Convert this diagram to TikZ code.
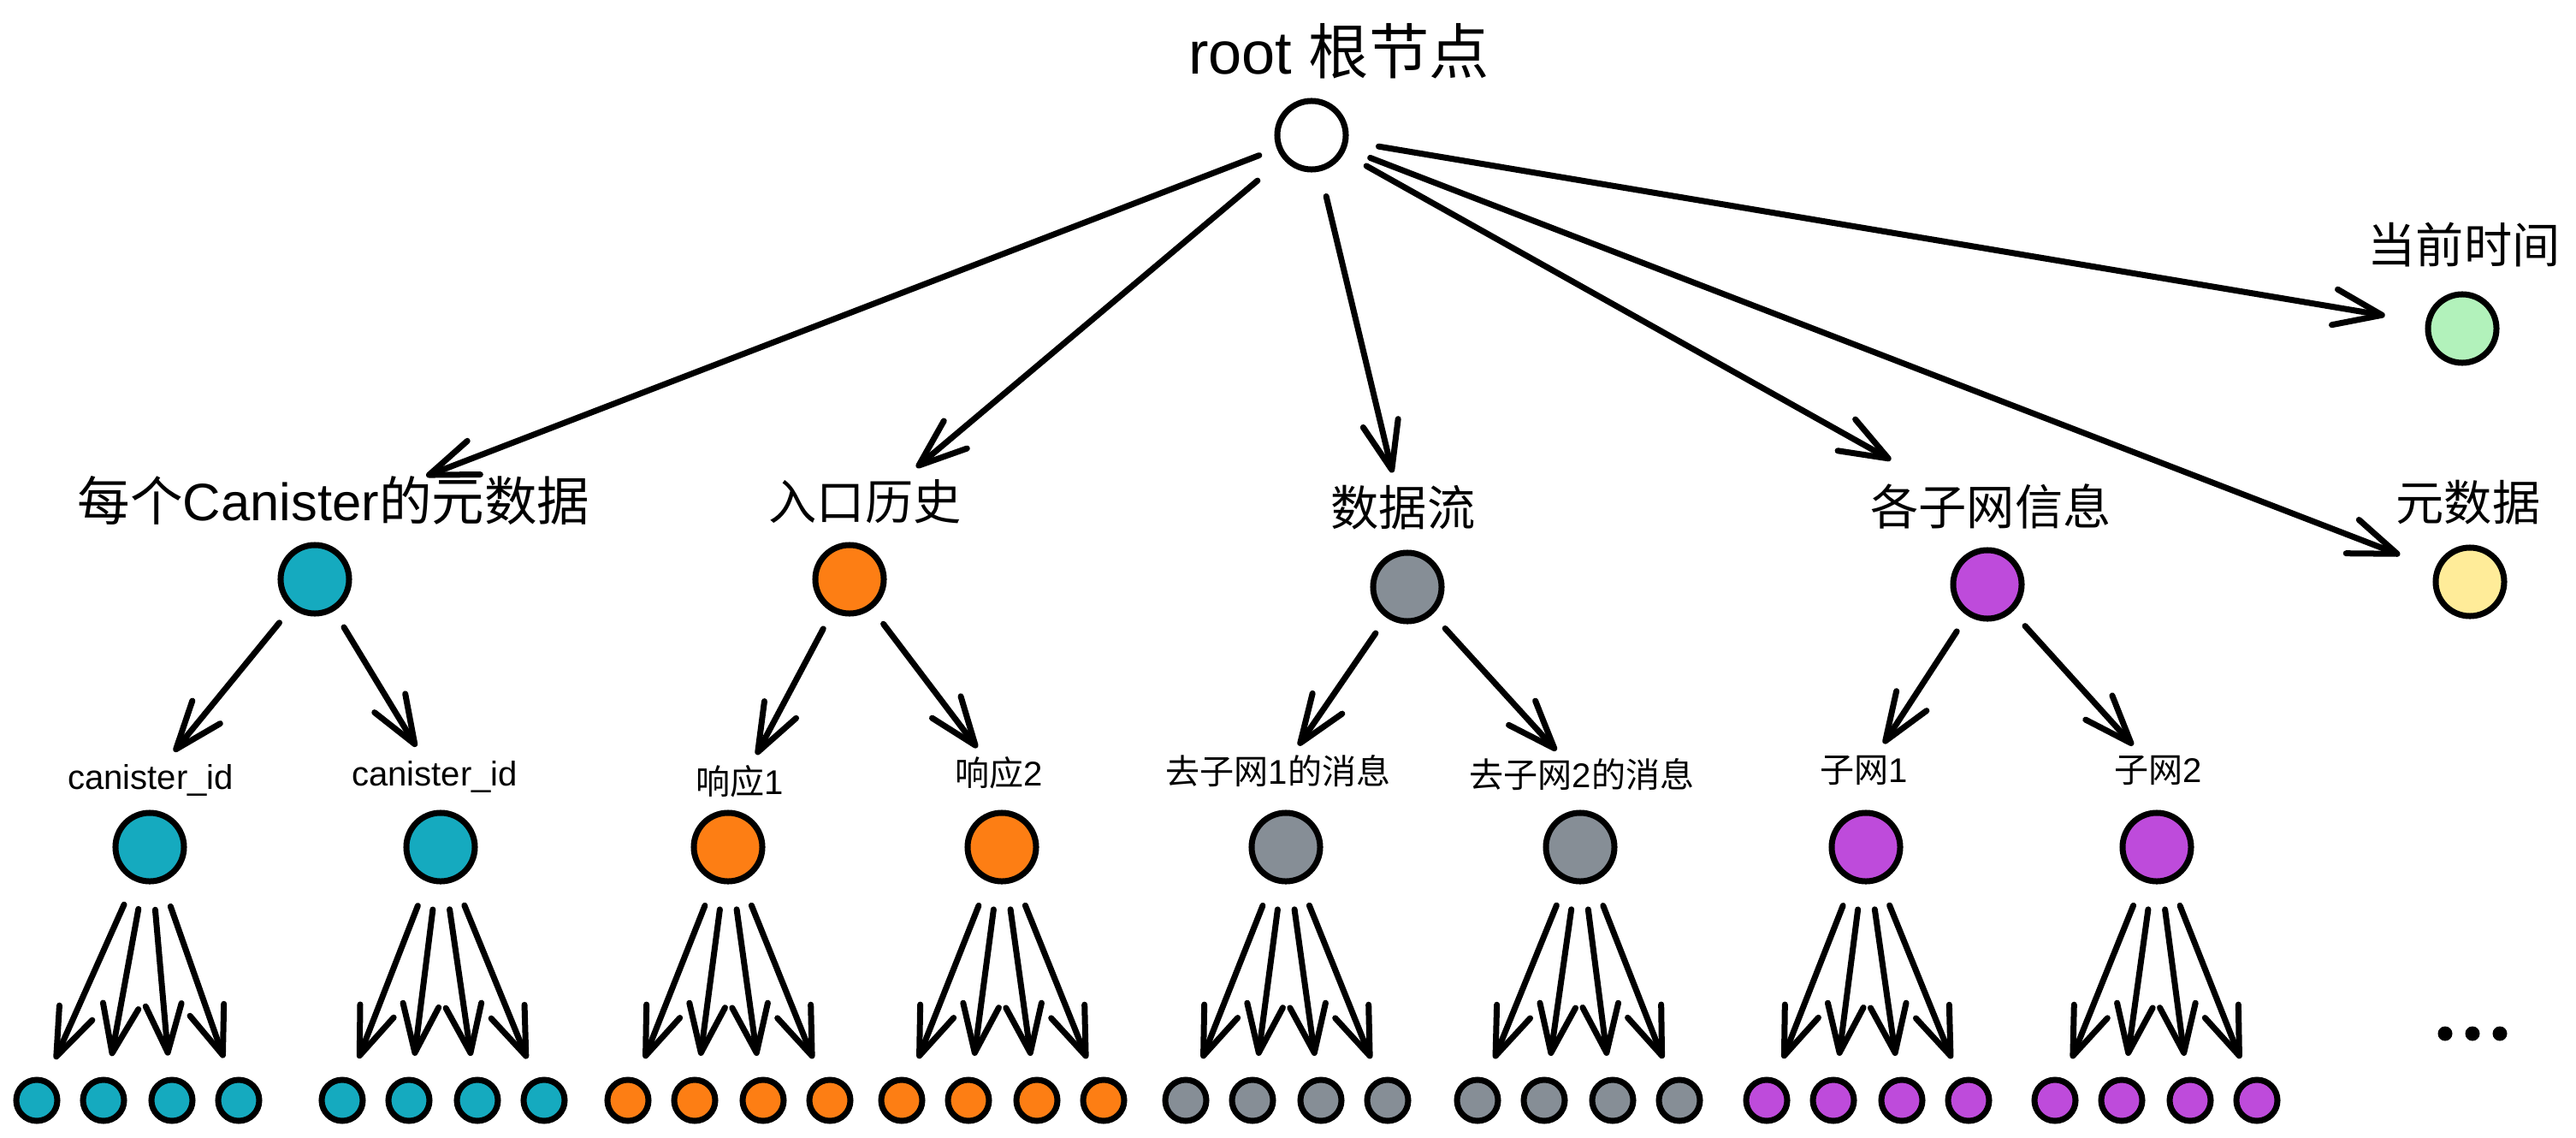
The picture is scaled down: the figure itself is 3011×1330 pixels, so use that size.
\documentclass[tikz,border=0pt]{standalone}
\usepackage{fontspec}
\setmainfont{Liberation Sans}
\newfontfamily\cjk{Noto Sans CJK SC}
\usetikzlibrary{arrows.meta}
\definecolor{tealc}{HTML}{15AABF}
\definecolor{orangec}{HTML}{FD7E14}
\definecolor{grayc}{HTML}{868E96}
\definecolor{grapec}{HTML}{BE4BDB}
\definecolor{greenc}{HTML}{B2F2BB}
\definecolor{yellowc}{HTML}{FFEC99}
\begin{document}
\begin{tikzpicture}[x=0.01cm,y=-0.01cm,
  dot/.style={draw,circle,line width=0.07cm,minimum size=0.8cm,inner sep=0pt},
  leaf/.style={draw,circle,line width=0.07cm,minimum size=0.48cm,inner sep=0pt},
  big/.style={font=\fontsize{16}{18}\selectfont,inner sep=0pt,text height=0.75em,text depth=0.15em},
  small/.style={font=\fontsize{11.4}{13}\selectfont,inner sep=0pt,text height=0.75em,text depth=0.15em},
  arr/.style={line width=0.07cm,line cap=round,-{Straight Barb[length=0.56cm,width=0.42cm,round]},shorten <=0.3cm,shorten >=0.25cm},
  mid/.style={arr,shorten <=0.22cm,shorten >=0.22cm}]
\fill[white] (0,0) rectangle (3011,1330);

\node[dot] (r) at (1533,158) {};
\node[font=\fontsize{20}{24}\selectfont,inner sep=0pt] (rl) at (1565,60) {root {\cjk 根节点}};

\node[dot,fill=tealc] (a) at (368,677) {};
\node[big,font=\fontsize{17.5}{20}\selectfont] (al) at (390,598) {{\cjk 每个}Canister{\cjk 的元数据}};
\node[dot,fill=orangec] (b) at (993,677) {};
\node[big] (bl) at (1011,597) {\cjk 入口历史};
\node[dot,fill=grayc] (c) at (1645,686) {};
\node[big] (cl) at (1640,604) {\cjk 数据流};
\node[dot,fill=grapec] (d) at (2323,683) {};
\node[big] (dl) at (2327,603) {\cjk 各子网信息};
\node[dot,fill=greenc] (e) at (2878,384) {};
\node[big] (el) at (2880,297) {\cjk 当前时间};
\node[dot,fill=yellowc] (f) at (2887,680) {};
\node[big] (fl) at (2885,598) {\cjk 元数据};

\draw[arr,shorten <=0.22cm,shorten >=0.7cm] (r) -- (al);
\draw[arr,shorten <=0.39cm,shorten >=0.53cm] (r) -- (bl);
\draw[arr,shorten >=0.36cm] (r) -- (cl);
\draw[arr,shorten >=1cm] (r) -- (dl);
\draw[arr,shorten <=0.36cm,shorten >=0.48cm] (r) -- (e);
\draw[arr,shorten >=0.44cm] (r) -- (f);

\node[dot,fill=tealc] (a1) at (175,990) {};
\node[small] (a1l) at (176,912) {canister\_id};
\node[dot,fill=tealc] (a2) at (515,990) {};
\node[small] (a2l) at (508,908) {canister\_id};
\node[dot,fill=orangec] (b1) at (851,990) {};
\node[small] (b1l) at (865,918) {{\cjk 响应}1};
\node[dot,fill=orangec] (b2) at (1171,990) {};
\node[small] (b2l) at (1168,908) {{\cjk 响应}2};
\node[dot,fill=grayc] (c1) at (1503,990) {};
\node[small] (c1l) at (1494,906) {{\cjk 去子网}1{\cjk 的消息}};
\node[dot,fill=grayc] (c2) at (1847,990) {};
\node[small] (c2l) at (1849,910) {{\cjk 去子网}2{\cjk 的消息}};
\node[dot,fill=grapec] (d1) at (2181,990) {};
\node[small] (d1l) at (2179,904) {{\cjk 子网}1};
\node[dot,fill=grapec] (d2) at (2521,990) {};
\node[small] (d2l) at (2523,904) {{\cjk 子网}2};

\foreach \s/\t in {a/a1l,a/a2l,b/b1l,b/b2l,c/c1l,c/c2l,d/d1l,d/d2l}
  \draw[mid] (\s) -- (\t);

\foreach \p/\g/\col in {a1/161/tealc,a2/518/tealc,b1/852/orangec,b2/1172/orangec,c1/1504/grayc,c2/1845/grayc,d1/2183/grapec,d2/2520/grapec}
  \foreach \k [count=\i] in {-118,-40,40,118} {
    \node[leaf,fill=\col] (\p-\i) at (\g+\k,1286) {};
    \draw[arr] (\p) -- (\p-\i);
  }

\foreach \x in {2858,2890,2922}
  \fill (\x,1208) circle[radius=0.085cm];
\end{tikzpicture}
\end{document}
